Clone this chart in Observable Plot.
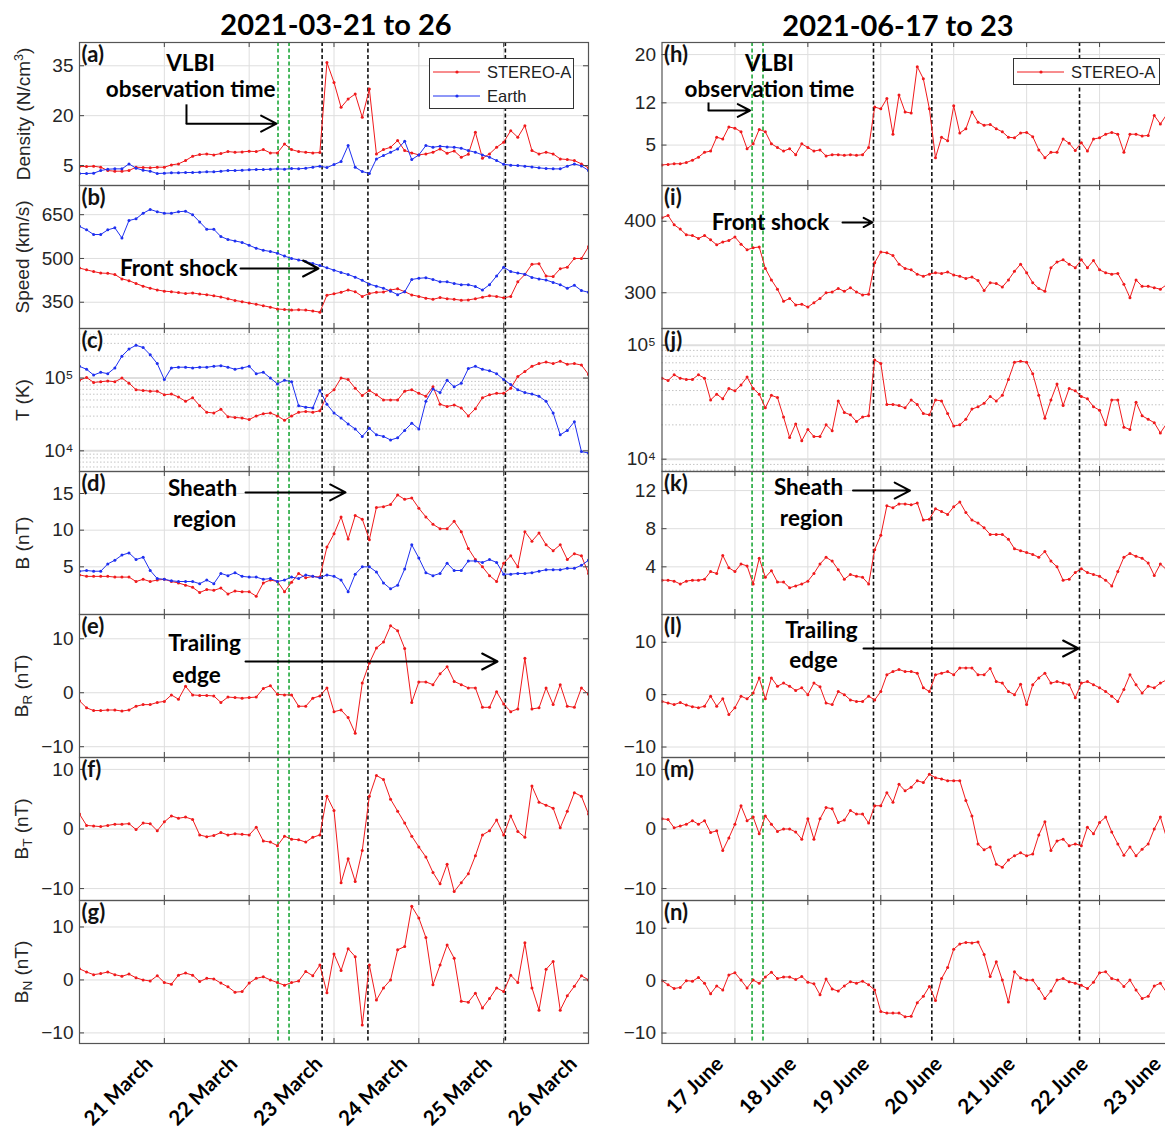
<!DOCTYPE html>
<html><head><meta charset="utf-8">
<script src="https://cdn.jsdelivr.net/npm/d3@7"></script>
<script src="https://cdn.jsdelivr.net/npm/@observablehq/plot@0.6"></script>
<style>
html,body{margin:0;padding:0;background:#fff;overflow:hidden;}
#root{position:relative;width:1165px;height:1136px;overflow:hidden;background:#fff;}
.panel{position:absolute;}
.ttl{position:absolute;font-family:Lato,sans-serif;font-weight:700;font-size:29px;color:#000;white-space:nowrap;transform:translate(-50%,-50%);}
.ylab{position:absolute;font-family:"Liberation Sans",Arial,sans-serif;font-size:19px;color:#262626;white-space:nowrap;transform:translate(-50%,-50%) rotate(-90deg);}
.ylab sub{font-size:13.5px;vertical-align:-4px;}
.ylab sup{font-size:12.5px;vertical-align:7px;}
.legend{position:absolute;border:1px solid #333;background:#fff;font-family:"Liberation Sans",Arial,sans-serif;font-size:16.5px;color:#222;}
.legend .row{position:absolute;left:0;height:20px;display:flex;align-items:center;}
.legend .row span{margin-left:4px;}
</style>
</head><body><div id="root"></div>
<script>
// ---------------- DATA ----------------
const marchStart = 20, juneStart = 16, stepDays = 1 / 12; // 2-hour cadence
const marchTicks = [21, 22, 23, 24, 25, 26];
const juneTicks = [17, 18, 19, 20, 21, 22, 23];
const marchVLBI = [22.34, 22.47];
const marchEvents = [22.86, 23.40, 25.02];
const juneVLBI = [17.235, 17.385];
const juneEvents = [18.90, 19.70, 21.725];

const marchDensitySTA = [4.7,4.7,4.8,4.5,3.5,3.3,3.3,3.5,4.5,4.4,4.3,4.5,4.5,5.2,5.5,6.5,7.8,8.3,8.5,8.2,8.6,9.2,9.0,9.1,9.3,9.2,9.8,8.8,8.8,11.5,9.8,9.2,9.0,8.8,8.9,36,30,22.5,25,26.5,19.5,28,8.5,9.8,10.5,12.5,9.5,8.8,8.2,8.5,9,10,8.7,9.4,7.5,8.4,15,7.2,8.5,10.5,12,15.5,13.5,17,9.5,8.5,9,8.5,7,6.8,6.5,5.5,4.3];
const marchDensityEarth = [2.6,2.6,2.7,3.5,3.9,4.0,4.0,5.5,4.2,3.6,3.3,2.6,2.7,2.8,2.8,2.9,2.9,3.0,3.1,3.1,3.3,3.5,3.5,3.6,3.7,3.8,3.8,3.9,4.0,3.9,4.1,4.0,4.2,4.5,4.8,4.4,5.3,6.2,11,4.5,3.2,2.6,7,8,9,10,12.3,6.8,8.2,11,10.5,10.8,10.6,10.5,10.2,9.5,9,8.2,7.5,6.5,5.4,5.1,5.0,4.8,4.6,4.3,4.1,4.0,4.0,4.8,5.5,4.9,3.5];
const marchSpeedSTA = [467,461,455,450,449,445,430,424,414,405,398,392,388,386,383,380,382,378,376,372,368,362,356,352,347,343,338,333,327,325,323,324,323,320,316,374,379,384,392,386,370,380,384,385,392,396,386,375,370,364,360,366,362,360,357,358,362,367,372,370,365,370,420,445,480,482,440,438,465,470,500,500,540];
const marchSpeedEarth = [610,598,582,582,598,605,570,630,636,655,668,660,655,655,660,662,650,625,600,600,575,565,560,555,545,535,528,524,518,508,500,495,490,483,476,468,460,452,445,436,425,412,405,398,388,376,386,428,432,434,428,420,420,414,410,410,404,392,410,440,470,455,450,446,435,430,426,418,410,398,408,390,384];
const marchTempSTA = [93300,102000,87100,89100,91200,89100,100000,85100,69200,67600,66100,66100,58900,60300,55000,47900,53700,41700,33900,33100,37200,29500,28800,28200,26900,30200,32400,33100,30200,26300,30200,33900,34700,33900,35500,57500,69200,100000,95500,72400,57500,67600,58900,50100,50100,50100,66100,69200,61700,56200,75900,43700,40700,42700,38900,30200,38000,53700,58900,61700,61700,72400,105000,123000,145000,158000,166000,158000,170000,155000,158000,151000,112000];
const marchTempEarth = [145000,132000,110000,120000,115000,138000,200000,251000,282000,263000,209000,158000,95500,138000,141000,141000,138000,141000,141000,145000,148000,141000,132000,138000,145000,115000,120000,100000,83200,93300,89100,41700,39800,38900,67600,43700,33100,28200,23400,20000,15800,20400,16600,15800,14100,15100,19100,24000,20000,47900,70800,63100,93300,75900,85100,135000,145000,132000,126000,115000,95500,81300,69200,63100,60300,56200,47900,33100,16600,19100,25100,9770,9330];
const marchBSTA = [3.9,3.7,3.7,3.7,3.7,3.6,3.6,3.6,3.0,3.3,3.0,3.2,3.3,3.0,2.8,2.5,2.2,1.5,1.9,1.8,2.1,1.3,1.7,1.6,1.6,1.0,2.8,3.2,3.0,1.6,2.9,4.1,3.5,3.7,3.6,7.7,9.5,11.8,8.8,12.0,11.5,8.7,13.1,13.2,13.5,14.8,14.2,14.4,13.0,11.8,10.8,10.2,10.2,11.2,9.8,7.5,6.0,5.0,3.8,3.0,5.5,6.5,5.0,9.8,8.5,9.6,8.0,7.2,8.0,6.0,6.8,6.5,4.1];
const marchBEarth = [4.4,4.5,4.4,4.4,5.4,5.9,6.6,6.9,6.0,6.3,4.5,3.4,3.3,3.1,3.0,3.0,3.0,2.7,3.2,2.7,4.1,3.8,4.2,3.7,3.6,3.6,3.3,3.4,3.0,3.2,3.6,3.4,3.9,3.7,3.5,3.9,3.7,3.2,1.6,4.0,5.0,5.0,4.3,2.8,2.0,2.5,4.7,8.0,6.2,4.2,3.8,4.1,5.5,4.5,4.5,5.8,5.8,5.6,6.0,5.6,4.0,4.0,4.1,4.1,4.2,4.4,4.6,4.6,4.6,4.8,4.8,5.2,5.9];
const marchBR = [-1.5,-2.8,-3.3,-3.3,-3.2,-3.2,-3.4,-3.2,-2.5,-2.2,-2.2,-1.8,-1.6,-0.4,-1.2,1.2,-0.4,-0.5,-0.5,-0.6,-1.8,-0.8,-0.9,-1.0,-0.9,-0.8,0.8,1.3,-0.3,-0.4,-0.4,-2.5,-2.5,-1.0,-0.6,0.9,-3.5,-3.2,-4.6,-7.5,1.8,5.5,8.3,9.4,12.4,11.5,8.2,-1.8,2.0,2.0,1.5,3.5,4.8,2.1,1.5,0.9,0.9,-2.7,-2.7,0.2,-2.1,-3.5,-3.0,6.4,-3.0,-2.8,0.9,-2.2,1.5,-2.5,-2.7,0.9,-0.3];
const marchBT = [2.5,0.6,0.5,0.4,0.6,0.8,0.8,0.9,-0.1,1.0,0.9,-0.3,1.2,2.2,1.8,2.0,1.6,-1.0,-1.3,-1.1,-0.6,-1.0,-0.8,-0.9,-1.0,0.3,-2.0,-2.2,-2.8,-1.2,-1.7,-1.8,-2.2,-1.4,-1.0,5.5,3.1,-9.0,-5.0,-8.8,-3.6,5.5,9.0,8.3,5.0,3.0,1.0,-1.2,-3.0,-4.7,-7.3,-9.2,-5.9,-10.5,-9.0,-7.5,-4.5,-1.0,-0.3,1.5,-1.0,2.2,-0.4,-1.4,7.2,4.5,4.0,3.5,0.2,3.0,6.1,5.5,2.5];
const marchBN = [2.1,1.5,1.0,1.2,1.5,1.0,0.7,1.1,0.4,0.0,-0.2,0.8,-0.5,-0.8,0.9,1.3,0.9,-0.3,0.3,0.2,-0.6,-1.3,-2.3,-2.2,-0.6,0.3,0.6,0.0,-0.5,-1.0,-0.5,-0.2,1.6,0.8,2.8,-2.4,4.9,1.8,5.9,4.4,-8.5,2.8,-3.8,-1.5,0.0,5.7,6.3,13.9,11.7,8.0,-0.9,2.8,6.6,4.1,-4.0,-4.2,-2.5,-5.3,-3.5,-1.5,-2.2,0.9,-0.5,7.0,-1.5,-5.7,2.0,3.5,-5.7,-3.0,-1.2,0.8,0.0];

const juneDensity = [1.7,1.8,1.9,1.9,2.1,2.5,3.0,3.8,4.0,6.3,6.0,8.0,7.8,7.2,4.4,5.2,7.6,7.2,5.2,4.6,4.0,4.4,3.4,5.2,4.6,4.0,4.2,3.2,3.4,3.4,3.3,3.4,3.3,3.4,4.6,11.3,11.0,12.7,6.8,13.3,10.5,10.3,18.0,16.0,11.0,2.9,6.3,5.7,11.5,7.0,7.7,10.5,8.8,8.3,8.4,7.7,7.2,6.3,6.2,7.0,7.1,6.4,4.2,2.9,3.8,3.8,6.0,5.3,4.1,5.4,4.0,6.0,6.2,6.8,7.1,6.8,3.8,6.8,6.8,6.5,6.6,9.9,8.5,10.0];
const juneSpeed = [405,408,395,389,381,380,376,380,374,367,371,373,378,368,360,363,364,334,318,305,288,292,283,284,280,286,292,300,301,306,302,307,301,297,298,342,357,356,352,340,334,332,326,323,326,328,327,329,325,323,320,322,317,303,314,313,308,318,330,340,328,314,306,302,335,343,346,340,335,346,335,345,332,328,326,327,312,293,318,309,309,307,305,311];
const juneTemp = [51300,49000,55000,51300,50100,50100,55000,51300,33100,37200,33900,41700,39800,44700,52500,41700,37200,28200,36300,34700,23400,15500,20400,14500,18200,15800,15800,20000,17800,32400,25700,24500,21400,23400,24000,74100,69200,30200,30200,29500,28200,33100,30200,25100,24500,33100,32400,25100,19500,20000,22400,27500,28800,30900,35500,32400,36300,50100,70800,72400,70800,56200,36300,22900,33100,45700,29500,41700,39800,35500,33900,28800,26900,20000,33100,33100,19100,18200,31600,24000,22400,20900,17000,20400];
const juneB = [2.6,2.6,2.5,2.2,2.5,2.6,2.6,2.7,3.5,3.3,5.2,3.9,3.5,4.3,4.1,2.2,4.9,2.9,3.6,2.4,2.4,1.8,2.0,2.2,2.5,3.3,4.3,5.0,4.6,3.7,2.7,3.2,3.0,2.9,2.2,5.8,7.3,10.4,10.2,10.6,10.6,10.5,10.7,8.9,9.0,10.1,9.8,9.5,10.3,10.8,9.7,8.9,8.6,8.1,7.4,7.4,7.4,6.9,5.9,5.7,5.5,5.3,5.0,5.6,4.6,4.0,2.6,2.7,3.4,3.8,3.4,3.2,3.0,2.6,2.0,3.5,5.0,5.4,5.1,4.9,4.4,3.1,4.3,3.7];
const juneBR = [-1.3,-1.6,-1.9,-1.5,-2.0,-2.3,-2.5,-2.2,-0.3,-2.2,-0.8,-3.8,-2.5,-0.3,-0.8,0.3,3.2,-0.8,3.2,1.6,2.2,1.6,0.8,1.3,0.0,2.2,1.5,-1.6,-1.9,0.6,0.0,-1.0,-1.3,-1.3,-0.3,-1.0,0.6,3.8,4.4,4.8,4.4,4.4,4.1,1.3,0.6,3.8,4.1,4.4,3.8,5.1,5.1,5.1,3.8,3.8,5.0,2.5,2.2,0.6,0.0,2.0,-1.9,1.9,3.2,4.1,2.2,2.5,2.2,1.9,-0.6,2.2,2.5,1.9,1.3,0.6,-0.3,-1.3,1.0,3.8,1.9,0.3,1.6,1.3,2.2,2.8];
const juneBT = [1.7,1.6,0.2,0.5,0.8,1.4,0.8,1.4,-0.6,-0.3,-3.6,-1.5,0.8,3.9,1.4,2.0,-0.8,2.2,0.8,-0.4,0.0,0.0,-0.5,-1.7,1.7,-1.7,1.7,3.6,3.4,1.1,1.5,3.1,2.5,2.5,1.0,3.9,3.9,6.1,4.5,7.5,6.4,7.0,8.1,7.8,9.2,8.6,8.4,8.1,8.1,8.1,4.8,2.2,-2.5,-3.5,-3.0,-5.9,-6.4,-5.2,-4.5,-4.0,-4.5,-4.2,-1.0,1.2,-3.6,-2.0,-1.7,-2.8,-2.5,-2.8,0.3,-0.8,1.1,2.0,-0.5,-2.5,-4.4,-3.0,-4.5,-3.4,-2.5,0.0,2.0,-1.4];
const juneBN = [0.0,-0.8,-1.5,-1.3,0.0,-0.1,0.6,-0.5,-2.5,-1.0,-1.8,1.1,1.5,0.1,-1.4,0.1,-0.5,0.7,1.6,0.4,0.7,0.7,0.2,0.8,-0.3,-0.6,-2.7,0.3,-1.6,-2.0,-1.0,-0.2,-0.5,-0.1,-0.8,-1.8,-5.9,-6.2,-6.2,-6.2,-6.9,-6.8,-4.2,-3.0,-1.1,-3.8,0.4,2.5,6.0,7.0,7.3,7.2,7.4,5.0,0.8,3.6,0.1,-4.1,1.7,0.5,0.1,0.1,-1.5,-3.4,-2.0,0.1,0.4,-0.2,-0.5,-0.9,-1.5,-0.3,1.5,1.7,0.4,0.1,-1.1,0.1,-1.8,-3.4,-3.0,-1.0,-0.5,-2.2];

// annotation texts / arrows (data coordinates: day, value)
const annA = {texts: [{x: 21.31, y: 35.7, label: "VLBI"}, {x: 21.31, y: 27.9, label: "observation time"}], links: [{x1: 21.261, y1: 23.4, x2: 21.261, y2: 17.6}], arrows: [{x1: 21.261, y1: 17.6, x2: 22.322, y2: 17.6}]};
const annB = {texts: [{x: 21.17, y: 465.6, label: "Front shock"}], links: [], arrows: [{x1: 21.898, y1: 465.6, x2: 22.817, y2: 465.6}]};
const annD = {texts: [{x: 21.45, y: 15.68, label: "Sheath"}, {x: 21.474, y: 11.45, label: "region"}], links: [], arrows: [{x1: 21.957, y1: 15.14, x2: 23.136, y2: 15.14}]};
const annE = {texts: [{x: 21.474, y: 9.13, label: "Trailing"}, {x: 21.379, y: 3.2, label: "edge"}], links: [], arrows: [{x1: 21.957, y1: 5.79, x2: 24.928, y2: 5.79}]};
const annH = {texts: [{x: 17.474, y: 18.52, label: "VLBI"}, {x: 17.474, y: 14.21, label: "observation time"}], links: [{x1: 16.638, y1: 12.06, x2: 16.638, y2: 10.73}], arrows: [{x1: 16.638, y1: 10.73, x2: 17.207, y2: 10.73}]};
const annI = {texts: [{x: 17.488, y: 398.3, label: "Front shock"}], links: [], arrows: [{x1: 18.475, y1: 398.3, x2: 18.886, y2: 398.3}]};
const annK = {texts: [{x: 18.009, y: 12.32, label: "Sheath"}, {x: 18.05, y: 9.07, label: "region"}], links: [], arrows: [{x1: 18.619, y1: 12.0, x2: 19.401, y2: 12.0}]};
const annL = {texts: [{x: 18.187, y: 12.25, label: "Trailing"}, {x: 18.077, y: 6.52, label: "edge"}], links: [], arrows: [{x1: 18.763, y1: 8.81, x2: 21.711, y2: 8.81}]};

// ---------------- DRAW ----------------
const RED = "#f01a1c", BLUE = "#1f30f0", GREEN = "#1ea83a";
const ROW_TOP = [42, 185, 328, 471, 614, 757, 900], ROW_H = 143;
const root = document.getElementById("root");
const timesOf = (start, n) => d3.range(n).map(i => start + i * stepDays);
const supFmt = d => "10" + (d === 1e4 ? "\u2074" : "\u2075");

function panel(cfg) {
  const {col, row, yType = "linear", yDomain, yTicks, yMinor, yFormat, series, tag, ann, last} = cfg;
  const L = col === 0
    ? {left: 0, mL: 79, plotW: 509, xDomain: [marchStart, 26], xTicks: marchTicks, vlbi: marchVLBI, events: marchEvents, xFmt: d => `${d} March`}
    : {left: 600, mL: 61.5, plotW: 510.5, xDomain: [juneStart, 23], xTicks: juneTicks, vlbi: juneVLBI, events: juneEvents, xFmt: d => `${d} June`};
  const mt = 3, mb = last ? 100 : 3, mR = 6;
  const marks = [
    Plot.gridX(L.xTicks, {stroke: "#dedede", strokeOpacity: 1}),
  ];
  if (yMinor) marks.push(Plot.gridY(yMinor, {stroke: "#c4c4c4", strokeOpacity: 1, strokeDasharray: "1.5,2"}));
  marks.push(Plot.gridY(yTicks, {stroke: "#dedede", strokeOpacity: 1, strokeWidth: yType === "log" ? 2 : 1}));
  marks.push(Plot.ruleX(L.vlbi, {stroke: GREEN, strokeWidth: 1.6, strokeDasharray: "4,2.5"}));
  marks.push(Plot.ruleX(L.events, {stroke: "#111", strokeWidth: 1.6, strokeDasharray: "4,2.5"}));
  for (const s of series) {
    const t = timesOf(col === 0 ? marchStart : juneStart, s.values.length);
    const data = s.values.map((v, i) => ({t: t[i], v}));
    marks.push(Plot.line(data, {x: "t", y: "v", stroke: s.color, strokeWidth: 1, clip: true}));
    marks.push(Plot.dot(data, {x: "t", y: "v", r: 1.5, fill: s.color, stroke: "none", clip: true}));
  }
  marks.push(Plot.ruleX(L.xTicks, {stroke: "#444", insetBottom: ROW_H - 5}));
  marks.push(Plot.ruleX(L.xTicks, {stroke: "#444", insetTop: ROW_H - 5}));
  marks.push(Plot.ruleY(yTicks, {stroke: "#444", insetRight: L.plotW - 5}));
  marks.push(Plot.ruleY(yTicks, {stroke: "#444", insetLeft: L.plotW - 5}));
  marks.push(Plot.frame({stroke: "#555", strokeWidth: 1.2}));
  marks.push(Plot.axisY(yTicks, {anchor: "left", tickSize: 0, tickPadding: 6, tickFormat: yFormat, fontSize: 19, fontFamily: "Liberation Sans", fill: "#262626", label: null}));
  marks.push(Plot.text([tag], {frameAnchor: "top-left", textAnchor: "start", lineAnchor: "top", dx: 2, dy: 4, fontSize: 22, fontWeight: "bold", fontFamily: "Lato", fill: "#111"}));
  if (ann) {
    marks.push(Plot.link(ann.links, {x1: "x1", y1: "y1", x2: "x2", y2: "y2", stroke: "#000", strokeWidth: 2}));
    marks.push(Plot.arrow(ann.arrows, {x1: "x1", y1: "y1", x2: "x2", y2: "y2", stroke: "#000", strokeWidth: 2, headLength: 13, headAngle: 55}));
    marks.push(Plot.text(ann.texts, {x: "x", y: "y", text: "label", fontSize: 22.5, fontWeight: "bold", fontFamily: "Lato", fill: "#000"}));
  }
  if (last) {
    marks.push(Plot.axisX(L.xTicks, {anchor: "bottom", tickSize: 0, tickPadding: 12, tickRotate: -45, dx: -15, dy: 5, tickFormat: L.xFmt, fontSize: 20.5, fontWeight: "bold", fontFamily: "Lato", fill: "#000", label: null}));
  }
  const width = L.mL + L.plotW + mR;
  const svg = Plot.plot({
    width, height: ROW_H + mt + mb,
    marginLeft: L.mL, marginRight: mR, marginTop: mt, marginBottom: mb,
    x: {domain: L.xDomain, axis: null},
    y: {type: yType, domain: yDomain, axis: null},
    style: "background: transparent; overflow: visible;",
    marks
  });
  const div = document.createElement("div");
  div.className = "panel";
  div.style.left = L.left + "px";
  div.style.top = (ROW_TOP[row] - mt) + "px";
  div.style.width = width + "px";
  div.appendChild(svg);
  root.appendChild(div);
}

const sA = v => ({values: v, color: RED});
const sE = v => ({values: v, color: BLUE});
const minorC = [6e3, 7e3, 8e3, 9e3, 2e4, 3e4, 4e4, 5e4, 6e4, 7e4, 8e4, 9e4, 2e5, 3e5, 4e5];
const minorJ = [8e3, 9e3, 2e4, 3e4, 4e4, 5e4, 6e4, 7e4, 8e4, 9e4];

panel({col: 0, row: 0, yDomain: [-1, 42], yTicks: [5, 20, 35], series: [sA(marchDensitySTA), sE(marchDensityEarth)], tag: "(a)", ann: annA});
panel({col: 0, row: 1, yDomain: [260, 750], yTicks: [350, 500, 650], series: [sA(marchSpeedSTA), sE(marchSpeedEarth)], tag: "(b)", ann: annB});
panel({col: 0, row: 2, yType: "log", yDomain: [5200, 480000], yTicks: [1e4, 1e5], yMinor: minorC, yFormat: supFmt, series: [sA(marchTempSTA), sE(marchTempEarth)], tag: "(c)"});
panel({col: 0, row: 3, yDomain: [-1.5, 18], yTicks: [5, 10, 15], series: [sA(marchBSTA), sE(marchBEarth)], tag: "(d)", ann: annD});
panel({col: 0, row: 4, yDomain: [-12, 14.5], yTicks: [-10, 0, 10], series: [sA(marchBR)], tag: "(e)", ann: annE});
panel({col: 0, row: 5, yDomain: [-12, 12], yTicks: [-10, 0, 10], series: [sA(marchBT)], tag: "(f)"});
panel({col: 0, row: 6, yDomain: [-12, 15], yTicks: [-10, 0, 10], series: [sA(marchBN)], tag: "(g)", last: true});

panel({col: 1, row: 0, yDomain: [-1.7, 22], yTicks: [5, 12, 20], series: [sA(juneDensity)], tag: "(h)", ann: annH});
panel({col: 1, row: 1, yDomain: [250, 450], yTicks: [300, 400], series: [sA(juneSpeed)], tag: "(i)", ann: annI});
panel({col: 1, row: 2, yType: "log", yDomain: [7800, 140000], yTicks: [1e4, 1e5], yMinor: minorJ, yFormat: supFmt, series: [sA(juneTemp)], tag: "(j)"});
panel({col: 1, row: 3, yDomain: [-1, 14], yTicks: [4, 8, 12], series: [sA(juneB)], tag: "(k)", ann: annK});
panel({col: 1, row: 4, yDomain: [-12, 15.3], yTicks: [-10, 0, 10], series: [sA(juneBR)], tag: "(l)", ann: annL});
panel({col: 1, row: 5, yDomain: [-12, 12], yTicks: [-10, 0, 10], series: [sA(juneBT)], tag: "(m)"});
panel({col: 1, row: 6, yDomain: [-12, 15.3], yTicks: [-10, 0, 10], series: [sA(juneBN)], tag: "(n)", last: true});

// titles
function addDiv(cls, html, x, y) {
  const d = document.createElement("div");
  d.className = cls; d.innerHTML = html;
  d.style.left = x + "px"; d.style.top = y + "px";
  root.appendChild(d);
  return d;
}
addDiv("ttl", "2021-03-21 to 26", 336, 23);
addDiv("ttl", "2021-06-17 to 23", 898, 24);

const yLabels = ["Density (N/cm<sup>3</sup>)", "Speed (km/s)", "T (K)", "B (nT)", "B<sub>R</sub> (nT)", "B<sub>T</sub> (nT)", "B<sub>N</sub> (nT)"];
yLabels.forEach((t, i) => addDiv("ylab", t, 23, ROW_TOP[i] + ROW_H / 2));

// legends
function legend(x, y, w, entries) {
  const d = document.createElement("div");
  d.className = "legend";
  d.style.left = x + "px"; d.style.top = y + "px";
  d.style.width = w + "px"; d.style.height = (entries.length * 24 + 1) + "px";
  entries.forEach((e, i) => {
    const r = document.createElement("div");
    r.className = "row";
    r.style.top = (3 + i * 24) + "px";
    r.innerHTML = `<svg width="50" height="20" style="margin-left:3px"><line x1="0" y1="10" x2="47" y2="10" stroke="${e.color}" stroke-width="1"/><circle cx="24" cy="10" r="1.6" fill="${e.color}"/></svg><span>${e.label}</span>`;
    d.appendChild(r);
  });
  root.appendChild(d);
}
legend(429, 58, 143, [{label: "STEREO-A", color: RED}, {label: "Earth", color: BLUE}]);
legend(1013, 58, 145, [{label: "STEREO-A", color: RED}]);
</script>
</body></html>
